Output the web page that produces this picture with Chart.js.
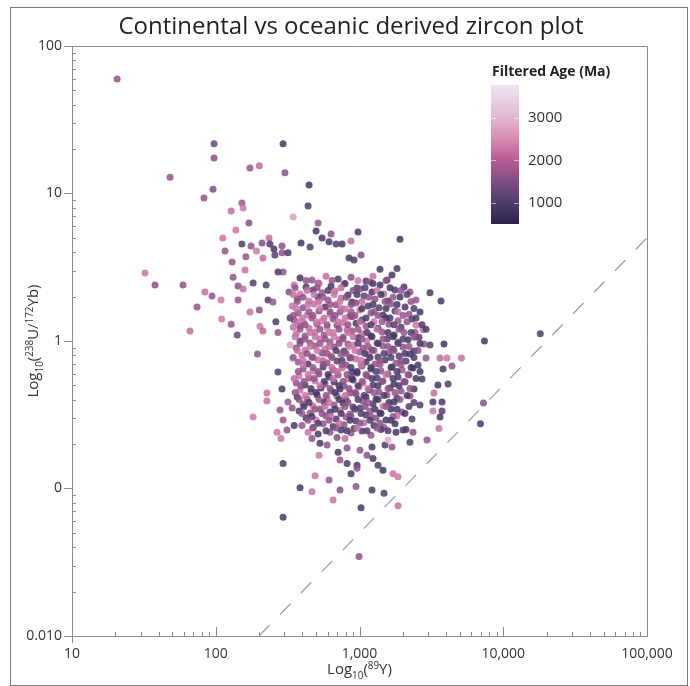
<!DOCTYPE html>
<html>
<head>
<meta charset="utf-8">
<title>Continental vs oceanic derived zircon plot</title>
<script src="https://cdn.jsdelivr.net/npm/chart.js@4.4.1/dist/chart.umd.min.js"></script>
<style>
	html, body { margin: 0; padding: 0; background: #fff; }
	#wrap { width: 690px; height: 686px; }
</style>
</head>
<body>
<div id="wrap"><canvas id="zircon_chart" width="690" height="686"></canvas></div>
<script>
// data
// x = 89Y (ppm), y = 238U/172Yb, colour = filtered age (Ma)
const yttrium = [
	// scattered points around the cloud
	20.6, 32.2, 37.8, 48.1, 82.8, 95.7, 97.3, 97.3, 294, 173,
	201, 303, 446, 152, 155, 128, 439, 170, 346, 515,
	499, 112, 116, 152, 176, 210, 235, 238, 289, 162,
	192, 213, 254, 258, 289, 318, 392, 453, 549, 634,
	614, 687, 756, 873, 977, 1025, 846, 916, 1913, 1241,
	1389, 1824, 1554, 294, 271, 182, 132, 143, 155, 110,
	128, 141, 173, 201, 231, 250, 203, 213, 262, 271,
	329, 346, 2245, 3093, 3690, 2766, 2432, 3093, 3872, 7400,
	18100, 5120, 4400, 3810, 4060, 3631, 3512, 4130, 3294, 3242,
	3749, 3242, 3749, 3631, 3569, 7280, 6940, 2949, 2107, 195,
	271, 289, 227, 227, 182, 318, 340, 280, 294, 351,
	267, 313, 284, 467, 531, 624, 698, 793, 595, 523,
	710, 819, 732, 294, 819, 961, 1008, 1128, 1222, 1241,
	1345, 1457, 1505, 1683, 1579, 1710, 873, 961, 491, 2008,
	2356, 2245, 386, 467, 294, 614, 732, 946, 1025, 1853,
	1853, 993, 1222, 655, 1481, 94.2, 74.1, 66.2, 108.8, 59.2,
	143, 160, 130, 138, 224, 84.1, 329, 340, 2432,
	// dense core
	386, 467, 585, 710, 873, 1110, 1683,
	351, 425, 515, 634, 780, 961, 1183, 1389, 2040,
	323, 386, 475, 549, 676, 832, 1008, 1222, 1481, 1766,
	369, 446, 515, 604, 744, 887, 1075, 1282, 1579, 1913, 2472,
	340, 405, 483, 576, 687, 793, 946, 1147, 1367, 1656, 2073,
	375, 432, 523, 624, 732, 859, 1008, 1202, 1457, 1766, 2210, 2636,
	351, 405, 467, 549, 655, 768, 887, 1041, 1261, 1529, 1853, 2318,
	386, 446, 507, 595, 698, 819, 946, 1110, 1345, 1604, 1944, 2472,
	363, 418, 491, 567, 655, 768, 887, 1041, 1202, 1434, 1738, 2040, 2594,
	386, 453, 531, 624, 721, 832, 977, 1128, 1324, 1554, 1853, 2175, 2811,
	363, 418, 491, 576, 666, 780, 902, 1058, 1222, 1457, 1710, 2008, 2394,
	398, 467, 549, 634, 744, 859, 1008, 1165, 1345, 1604, 1883, 2245, 2902,
	375, 439, 515, 595, 698, 806, 946, 1110, 1282, 1505, 1795, 2107, 2552,
	405, 475, 558, 655, 756, 887, 1041, 1202, 1411, 1683, 1976, 2356,
	380, 446, 523, 614, 710, 832, 961, 1128, 1324, 1579, 1853, 2210, 2722,
	363, 418, 491, 576, 666, 780, 902, 1058, 1241, 1457, 1738, 2073,
	386, 460, 540, 634, 732, 859, 993, 1165, 1367, 1630, 1944, 2394,
	369, 432, 507, 595, 698, 806, 946, 1110, 1302, 1554, 1824, 2245,
	405, 475, 567, 666, 768, 902, 1058, 1241, 1457, 1738, 2636,
	380, 453, 531, 624, 732, 859, 1008, 1183, 1389, 1656, 1976,
	425, 499, 585, 687, 806, 946, 1110, 1302, 1529, 1824, 2318,
	398, 475, 558, 655, 780, 916, 1075, 1261, 1481, 1766,
	439, 515, 744, 873, 1041, 1202, 1411, 1795,
	// dense core, in-between points
	425, 523, 644, 793, 977, 1241, 1529,
	357, 432, 507, 604, 744, 902, 1093, 1324, 1630, 1944,
	346, 405, 483, 558, 666, 806, 961, 1165, 1411, 1710, 2141,
	369, 439, 523, 624, 732, 873, 1041, 1241, 1505, 1824, 2282,
	363, 446, 531, 624, 744, 873, 1041, 1261, 1529, 1853, 2394,
	346, 398, 475, 567, 676, 793, 931, 1110, 1345, 1630, 2008, 2472,
	363, 418, 499, 595, 710, 832, 1008, 1202, 1434, 1738, 2141, 2722,
	386, 453, 531, 614, 721, 832, 977, 1128, 1324, 1579, 1883, 2282, 2902,
	357, 418, 491, 576, 666, 768, 902, 1041, 1222, 1457, 1710, 2008, 2394,
	386, 453, 531, 614, 721, 846, 977, 1147, 1345, 1579, 1853, 2210, 2636,
	369, 432, 507, 595, 687, 806, 931, 1093, 1261, 1481, 1738, 2073, 2552,
	346, 405, 475, 558, 644, 756, 873, 1025, 1183, 1389, 1656, 1944, 2394,
	405, 475, 558, 644, 756, 873, 1025, 1202, 1389, 1656, 1944, 2282,
	375, 439, 515, 604, 698, 819, 961, 1110, 1302, 1529, 1824, 2175, 2636,
	351, 411, 483, 567, 655, 768, 887, 1041, 1222, 1434, 1710, 2040, 2472,
	392, 460, 531, 624, 721, 846, 977, 1147, 1345, 1579, 1883, 2245,
	357, 418, 499, 585, 676, 793, 931, 1075, 1261, 1481, 1766, 2141,
	380, 446, 523, 614, 721, 832, 977, 1147, 1345, 1604, 1913, 2394,
	411, 491, 576, 676, 793, 931, 1093, 1282, 1529, 1824, 2210,
	398, 467, 549, 634, 744, 873, 1025, 1202, 1411, 1710, 2073,
	439, 515, 614, 721, 859, 1008, 1183, 1389, 1656,
	475, 585, 687, 819, 961, 1128, 1324, 1579
];
const uYbRatio = [
	59.7, 2.89, 2.40, 12.9, 9.32, 10.7, 21.7, 17.4, 21.7, 14.9,
	15.4, 13.8, 11.4, 8.62, 7.97, 7.61, 8.23, 6.31, 6.93, 6.31,
	5.57, 4.99, 4.08, 4.55, 4.41, 4.62, 4.99, 4.55, 4.41, 3.72,
	4.08, 3.66, 4.20, 3.83, 3.96, 3.96, 4.62, 4.34, 4.99, 5.31,
	4.70, 4.55, 4.55, 4.77, 5.48, 3.83, 3.66, 3.54, 4.90, 2.75,
	3.07, 3.10, 2.59, 2.94, 2.94, 2.47, 2.71, 2.36, 2.25, 1.41,
	1.30, 1.10, 1.57, 1.62, 1.90, 1.84, 1.26, 1.17, 1.35, 1.14,
	1.43, 1.24, 2.15, 2.12, 1.87, 1.19, 1.14, 0.94, 0.955, 1.00,
	1.12, 0.767, 0.677, 0.646, 0.767, 0.767, 0.503, 0.511, 0.444, 0.386,
	0.386, 0.335, 0.335, 0.305, 0.255, 0.380, 0.275, 0.213, 0.251, 0.816,
	0.616, 0.472, 0.444, 0.392, 0.305, 0.386, 0.352, 0.340, 0.291, 0.267,
	0.241, 0.249, 0.218, 0.218, 0.203, 0.241, 0.222, 0.218, 0.197, 0.168,
	0.176, 0.188, 0.156, 0.148, 0.148, 0.144, 0.182, 0.168, 0.191, 0.160,
	0.144, 0.133, 0.197, 0.191, 0.213, 0.126, 0.126, 0.137, 0.122, 0.249,
	0.241, 0.206, 0.101, 0.095, 0.0638, 0.114, 0.0977, 0.103, 0.074, 0.0765,
	0.120, 0.0346, 0.0977, 0.0836, 0.093, 2.02, 1.70, 1.17, 1.90, 2.40,
	1.90, 3.03, 3.43, 5.65, 2.40, 2.15, 0.94, 0.755, 1.05,
	2.67, 2.59, 2.75, 2.63, 2.71, 2.55, 2.80,
	2.40, 2.32, 2.47, 2.36, 2.43, 2.29, 2.51, 2.40, 2.32,
	2.15, 2.08, 2.22, 2.12, 2.18, 2.05, 2.25, 2.15, 2.08, 2.22,
	1.93, 1.87, 1.99, 1.90, 1.96, 1.84, 2.02, 1.93, 1.87, 1.99, 1.90,
	1.73, 1.68, 1.78, 1.70, 1.76, 1.65, 1.81, 1.73, 1.68, 1.78, 1.70,
	1.55, 1.50, 1.60, 1.52, 1.57, 1.48, 1.62, 1.55, 1.50, 1.60, 1.52, 1.57,
	1.39, 1.35, 1.43, 1.37, 1.41, 1.33, 1.46, 1.39, 1.35, 1.43, 1.37, 1.41,
	1.26, 1.22, 1.30, 1.24, 1.28, 1.19, 1.32, 1.26, 1.22, 1.30, 1.24, 1.28,
	1.12, 1.08, 1.15, 1.10, 1.14, 1.06, 1.17, 1.12, 1.08, 1.15, 1.10, 1.14, 1.06,
	1.00, 0.970, 1.03, 0.985, 1.02, 0.955, 1.05, 1.00, 0.970, 1.03, 0.985, 1.02, 0.955,
	0.897, 0.869, 0.926, 0.883, 0.911, 0.856, 0.940, 0.897, 0.869, 0.926, 0.883, 0.911, 0.856,
	0.804, 0.779, 0.829, 0.791, 0.816, 0.767, 0.842, 0.804, 0.779, 0.829, 0.791, 0.816, 0.767,
	0.720, 0.698, 0.743, 0.709, 0.731, 0.687, 0.755, 0.720, 0.698, 0.743, 0.709, 0.731, 0.687,
	0.646, 0.626, 0.666, 0.636, 0.656, 0.616, 0.677, 0.646, 0.626, 0.666, 0.636, 0.656,
	0.579, 0.561, 0.597, 0.570, 0.588, 0.553, 0.607, 0.579, 0.561, 0.597, 0.570, 0.588, 0.553,
	0.519, 0.503, 0.535, 0.511, 0.527, 0.495, 0.544, 0.519, 0.503, 0.535, 0.511, 0.527,
	0.465, 0.451, 0.480, 0.458, 0.472, 0.444, 0.487, 0.465, 0.451, 0.480, 0.458, 0.472,
	0.417, 0.404, 0.430, 0.411, 0.423, 0.398, 0.437, 0.417, 0.404, 0.430, 0.411, 0.423,
	0.374, 0.363, 0.386, 0.368, 0.380, 0.357, 0.392, 0.374, 0.363, 0.386, 0.368,
	0.335, 0.325, 0.346, 0.330, 0.340, 0.320, 0.352, 0.335, 0.325, 0.346, 0.330,
	0.300, 0.291, 0.310, 0.296, 0.305, 0.287, 0.315, 0.300, 0.291, 0.310, 0.296,
	0.267, 0.259, 0.275, 0.263, 0.271, 0.255, 0.279, 0.267, 0.259, 0.275,
	0.241, 0.234, 0.249, 0.238, 0.245, 0.230, 0.251, 0.241,
	2.57, 2.45, 2.57, 2.45, 2.57, 2.45, 2.57,
	2.30, 2.20, 2.30, 2.20, 2.30, 2.20, 2.30, 2.20, 2.30, 2.20,
	2.07, 1.98, 2.07, 1.98, 2.07, 1.98, 2.07, 1.98, 2.07, 1.98, 2.07,
	1.85, 1.77, 1.85, 1.77, 1.85, 1.77, 1.85, 1.77, 1.85, 1.77, 1.85,
	1.66, 1.58, 1.66, 1.58, 1.66, 1.58, 1.66, 1.58, 1.66, 1.58, 1.66,
	1.49, 1.43, 1.49, 1.43, 1.49, 1.43, 1.49, 1.43, 1.49, 1.43, 1.49, 1.43,
	1.35, 1.29, 1.35, 1.29, 1.35, 1.29, 1.35, 1.29, 1.35, 1.29, 1.35, 1.29,
	1.20, 1.14, 1.20, 1.14, 1.20, 1.14, 1.20, 1.14, 1.20, 1.14, 1.20, 1.14, 1.20,
	1.07, 1.03, 1.07, 1.03, 1.07, 1.03, 1.07, 1.03, 1.07, 1.03, 1.07, 1.03, 1.07,
	0.962, 0.919, 0.962, 0.919, 0.962, 0.919, 0.962, 0.919, 0.962, 0.919, 0.962, 0.919, 0.962,
	0.861, 0.823, 0.861, 0.823, 0.861, 0.823, 0.861, 0.823, 0.861, 0.823, 0.861, 0.823, 0.861,
	0.772, 0.738, 0.772, 0.738, 0.772, 0.738, 0.772, 0.738, 0.772, 0.738, 0.772, 0.738, 0.772,
	0.693, 0.662, 0.693, 0.662, 0.693, 0.662, 0.693, 0.662, 0.693, 0.662, 0.693, 0.662,
	0.621, 0.593, 0.621, 0.593, 0.621, 0.593, 0.621, 0.593, 0.621, 0.593, 0.621, 0.593, 0.621,
	0.557, 0.532, 0.557, 0.532, 0.557, 0.532, 0.557, 0.532, 0.557, 0.532, 0.557, 0.532, 0.557,
	0.498, 0.476, 0.498, 0.476, 0.498, 0.476, 0.498, 0.476, 0.498, 0.476, 0.498, 0.476,
	0.447, 0.427, 0.447, 0.427, 0.447, 0.427, 0.447, 0.427, 0.447, 0.427, 0.447, 0.427,
	0.401, 0.383, 0.401, 0.383, 0.401, 0.383, 0.401, 0.383, 0.401, 0.383, 0.401, 0.383,
	0.360, 0.344, 0.360, 0.344, 0.360, 0.344, 0.360, 0.344, 0.360, 0.344, 0.360,
	0.322, 0.308, 0.322, 0.308, 0.322, 0.308, 0.322, 0.308, 0.322, 0.308, 0.322,
	0.290, 0.277, 0.290, 0.277, 0.290, 0.277, 0.290, 0.277, 0.290,
	0.257, 0.246, 0.257, 0.246, 0.257, 0.246, 0.257, 0.246
];
const filteredAge = [
	1650, 2250, 1600, 1700, 1650, 1550, 1250, 1600, 900, 1700,
	2150, 1550, 850, 1750, 2300, 2200, 950, 1600, 2750, 1700,
	900, 2250, 1700, 1000, 1650, 1550, 2200, 950, 1600, 1700,
	2300, 2150, 900, 1050, 1650, 950, 850, 1000, 900, 1600,
	950, 1050, 900, 2200, 850, 1550, 950, 1000, 850, 2250,
	900, 1000, 950, 1700, 1000, 1050, 1650, 1600, 2200, 2300,
	1700, 1300, 2250, 1600, 1000, 1700, 2350, 2100, 950, 1650,
	1050, 2200, 1600, 950, 900, 2300, 1700, 1000, 850, 900,
	1000, 2250, 1650, 950, 2300, 2150, 900, 1000, 2200, 950,
	900, 2300, 1000, 850, 2250, 1600, 950, 1700, 900, 1650,
	1000, 950, 2250, 2200, 2300, 1700, 1600, 1650, 1750, 900,
	2250, 1600, 2300, 1650, 950, 1700, 1550, 2200, 1650, 2300,
	900, 1600, 1700, 950, 1000, 850, 1650, 1550, 900, 950,
	1000, 850, 950, 1700, 2900, 2250, 900, 1650, 2300, 950,
	1600, 1000, 900, 2250, 950, 1700, 1600, 1650, 900, 2200,
	2300, 1600, 950, 2250, 1000, 1650, 1700, 2200, 2300, 1600,
	1700, 2250, 1650, 2300, 1000, 2200, 2800, 3400, 2700,
	900, 1650, 2200, 950, 1600, 1000, 900,
	2250, 950, 1700, 900, 2150, 1000, 1650, 850, 950,
	1600, 2300, 1000, 1700, 2200, 950, 1550, 900, 2250, 1000,
	1650, 2250, 950, 1700, 2150, 900, 1050, 1600, 950, 850, 1700,
	2300, 1650, 2200, 950, 1700, 2250, 1550, 900, 1000, 1650, 950,
	1700, 2300, 1600, 2200, 1650, 950, 2150, 1700, 900, 1000, 1650, 900,
	1250, 2250, 1700, 2300, 1600, 2200, 1650, 950, 2250, 900, 1700, 1000,
	1650, 2200, 1750, 2300, 1600, 2150, 950, 1700, 900, 1600, 1000, 2250,
	2250, 1700, 2200, 1650, 2300, 1600, 1750, 2150, 950, 1650, 900, 1700, 1000,
	1000, 1650, 2250, 1700, 2200, 1600, 900, 2300, 1700, 950, 1650, 900, 1600,
	1650, 2250, 1700, 2200, 1600, 950, 2300, 1650, 900, 1700, 1000, 1600, 950,
	2200, 1700, 1600, 2250, 1650, 900, 1700, 2300, 950, 1600, 1000, 900, 1650,
	1700, 950, 2250, 1650, 1000, 1600, 2200, 900, 1700, 950, 1650, 1000, 900,
	1650, 2300, 950, 1700, 2200, 900, 1600, 1000, 1650, 950, 1700, 900,
	2250, 1700, 1600, 950, 1650, 2200, 900, 1700, 1000, 1600, 950, 1650, 900,
	1650, 950, 2300, 1700, 900, 1600, 1000, 2250, 950, 1650, 900, 1000,
	2200, 1700, 950, 1650, 900, 1600, 2250, 1000, 1700, 950, 1650, 900,
	950, 1700, 900, 2250, 1650, 1000, 1600, 950, 900, 1700, 1000, 1650,
	1650, 2200, 950, 1700, 900, 1000, 1600, 950, 2300, 900, 1000,
	950, 1700, 1600, 900, 2250, 1650, 1000, 1700, 950, 900, 1600,
	950, 2300, 1650, 900, 1700, 1000, 950, 1600, 900, 2250, 1000,
	1700, 950, 1650, 900, 1600, 1000, 2200, 950, 1700, 900,
	2250, 950, 900, 1650, 1000, 1700, 950, 900,
	1650, 2200, 1700, 950, 2300, 900, 1650,
	1700, 2250, 1650, 950, 2200, 1600, 1000, 2300, 900, 1700,
	2200, 1650, 2300, 1700, 2250, 1600, 950, 1700, 900, 1650, 1000,
	1650, 2250, 2200, 1700, 2300, 1600, 2150, 950, 1650, 900, 1700,
	2250, 1700, 2300, 1650, 2200, 1750, 950, 1600, 900, 2250, 1000,
	1650, 2300, 1700, 2200, 1600, 2250, 1700, 950, 1650, 900, 1700, 1000,
	2200, 1700, 2300, 1650, 2250, 1600, 2200, 950, 1700, 1000, 1650, 900,
	1700, 2250, 1650, 2300, 1600, 2200, 1750, 950, 2250, 900, 1650, 1000, 950,
	2250, 1700, 2200, 1650, 2300, 1600, 2200, 1700, 950, 1650, 900, 1000, 1600,
	1650, 2250, 1700, 2200, 1600, 2300, 950, 1700, 900, 1650, 1000, 1700, 950,
	2200, 1650, 2300, 1700, 950, 1600, 2250, 900, 1700, 1000, 1650, 900, 1600,
	1650, 2250, 1700, 2200, 1600, 950, 1700, 2300, 900, 1650, 1000, 1600, 950,
	2250, 1700, 1600, 2200, 1650, 900, 2300, 950, 1700, 1000, 1650, 900,
	1700, 2250, 1650, 950, 2200, 1600, 900, 1700, 1000, 2250, 950, 1650, 900,
	2200, 1650, 1700, 950, 2250, 1600, 900, 1700, 950, 1650, 1000, 1600, 900,
	1650, 950, 2250, 1700, 900, 1600, 1000, 2200, 950, 1700, 900, 1650,
	1700, 2250, 950, 1650, 900, 2200, 1600, 1000, 1700, 950, 1650, 900,
	1650, 950, 1700, 2250, 900, 1600, 1000, 1700, 950, 900, 1650, 1000,
	950, 1700, 2200, 900, 1650, 1000, 1600, 950, 1700, 900, 1000,
	1700, 950, 1650, 2250, 900, 1600, 1000, 1700, 950, 1650, 900,
	1650, 950, 1700, 2200, 900, 1650, 1000, 1600, 950,
	1700, 950, 1650, 900, 2250, 1000, 1700, 950
];

// axis ticks
const xTickValues = [10, 100, 1000, 10000, 100000];
const xTickLabels = ["10", "100", "1,000", "10,000", "100,000"];
const yTickValues = [0.01, 0.1, 1, 10, 100];
const yTickLabels = ["0.010", "0", "1", "10", "100"];

// dashed discrimination line
const boundaryX = [200, 100000];
const boundaryY = [0.01, 5];

// colour scale
const ageStops = [500, 1000, 1500, 2000, 2500, 3000, 3780];
const ageColours = ["#2c2150", "#4d3d6c", "#7d4e83", "#b95a92", "#d88ab3", "#e2b6d0", "#ece6f1"];
const ageTickValues = [1000, 2000, 3000];

const axisGrey = "#8a8a8a";
const fontFamily = "'Open Sans', 'Noto Sans', sans-serif";

function hexToRgb(h) {
	return [parseInt(h.slice(1, 3), 16), parseInt(h.slice(3, 5), 16), parseInt(h.slice(5, 7), 16)];
}

function ageColor(age, alpha) {
	let i = 0;
	while (i < ageStops.length - 2 && age > ageStops[i + 1]) i++;
	let t = (age - ageStops[i]) / (ageStops[i + 1] - ageStops[i]);
	t = Math.max(0, Math.min(1, t));
	const a = hexToRgb(ageColours[i]), b = hexToRgb(ageColours[i + 1]);
	const c = a.map((v, k) => Math.round(v + (b[k] - v) * t));
	return `rgba(${c[0]},${c[1]},${c[2]},${alpha})`;
}

// draws text with sub / superscripts
function drawRich(ctx, parts, cx, cy, size) {
	const small = size * 0.66;
	let total = 0;
	parts.forEach((p) => {
		ctx.font = `${p[1] === "n" ? size : small}px ${fontFamily}`;
		total += ctx.measureText(p[0]).width;
	});
	let x = cx - total / 2;
	ctx.textAlign = "left";
	ctx.textBaseline = "alphabetic";
	parts.forEach((p) => {
		const s = p[1] === "n" ? size : small;
		ctx.font = `${s}px ${fontFamily}`;
		let dy = 0;
		if (p[1] === "sub") dy = size * 0.3;
		if (p[1] === "sup") dy = -size * 0.38;
		ctx.fillText(p[0], x, cy + size * 0.35 + dy);
		x += ctx.measureText(p[0]).width;
	});
}

const xTitleParts = [["Log", "n"], ["10", "sub"], ["(", "n"], ["89", "sup"], ["Y)", "n"]];
const yTitleParts = [["Log", "n"], ["10", "sub"], ["(", "n"], ["238", "sup"], ["U/", "n"], ["172", "sup"], ["Yb)", "n"]];

const decorations = {
	id: "decorations",
	beforeDraw(chart) {
		const ctx = chart.ctx;
		ctx.save();
		ctx.fillStyle = "#fff";
		ctx.fillRect(0, 0, chart.width, chart.height);
		ctx.strokeStyle = "#7a7a7a";
		ctx.lineWidth = 1;
		ctx.strokeRect(10.5, 7.5, 677, 678);
		ctx.restore();
	},
	afterDraw(chart) {
		const ctx = chart.ctx;
		const area = chart.chartArea;
		const xs = chart.scales.x, ys = chart.scales.y;
		ctx.save();
		ctx.strokeStyle = axisGrey;
		ctx.lineWidth = 1;

		// top and right frame
		ctx.beginPath();
		ctx.moveTo(area.left, area.top + 0.5);
		ctx.lineTo(area.right + 0.5, area.top + 0.5);
		ctx.lineTo(area.right + 0.5, area.bottom);
		ctx.stroke();

		// x ticks (inside)
		ctx.beginPath();
		for (let d = 0; d < xTickValues.length; d++) {
			const px = Math.round(xs.getPixelForValue(xTickValues[d])) + 0.5;
			ctx.moveTo(px, area.bottom);
			ctx.lineTo(px, area.bottom - 9);
			if (d === xTickValues.length - 1) break;
			for (let k = 2; k < 10; k++) {
				const mx = Math.round(xs.getPixelForValue(k * xTickValues[d])) + 0.5;
				ctx.moveTo(mx, area.bottom);
				ctx.lineTo(mx, area.bottom - 4);
			}
		}
		// y minor ticks (inside)
		for (let d = 0; d < yTickValues.length - 1; d++) {
			for (let k = 2; k < 10; k++) {
				const my = Math.round(ys.getPixelForValue(k * yTickValues[d])) + 0.5;
				ctx.moveTo(area.left, my);
				ctx.lineTo(area.left + 4, my);
			}
		}
		ctx.moveTo(area.left + 0.5, area.bottom);
		ctx.lineTo(area.left + 0.5, area.bottom + 7);
		ctx.stroke();

		// title
		ctx.fillStyle = "#222";
		ctx.font = `24px ${fontFamily}`;
		ctx.textAlign = "center";
		ctx.textBaseline = "middle";
		ctx.fillText("Continental vs oceanic derived zircon plot", 351, 27);

		// axis titles
		ctx.fillStyle = "#333";
		drawRich(ctx, xTitleParts, (area.left + area.right) / 2, 669, 15);
		ctx.save();
		ctx.translate(33, (area.top + area.bottom) / 2);
		ctx.rotate(-Math.PI / 2);
		drawRich(ctx, yTitleParts, 0, 0, 15);
		ctx.restore();

		// colour bar
		const cb = { left: 491, right: 519, top: 85, bottom: 224 };
		const minAge = ageStops[0], maxAge = ageStops[ageStops.length - 1];
		const grad = ctx.createLinearGradient(0, cb.bottom, 0, cb.top);
		ageStops.forEach((a, i) => grad.addColorStop((a - minAge) / (maxAge - minAge), ageColours[i]));
		ctx.fillStyle = grad;
		ctx.fillRect(cb.left, cb.top, cb.right - cb.left, cb.bottom - cb.top);

		ctx.fillStyle = "#222";
		ctx.font = `bold 14px ${fontFamily}`;
		ctx.textAlign = "left";
		ctx.textBaseline = "middle";
		ctx.fillText("Filtered Age (Ma)", 492, 72);

		ctx.font = `15px ${fontFamily}`;
		ctx.fillStyle = "#333";
		ctx.strokeStyle = "rgba(255,255,255,0.55)";
		ageTickValues.forEach((a) => {
			const py = cb.bottom - (a - minAge) / (maxAge - minAge) * (cb.bottom - cb.top);
			ctx.fillText(String(a), 528, py);
			ctx.beginPath();
			ctx.moveTo(cb.left, Math.round(py) + 0.5);
			ctx.lineTo(cb.left + 5, Math.round(py) + 0.5);
			ctx.moveTo(cb.right - 5, Math.round(py) + 0.5);
			ctx.lineTo(cb.right, Math.round(py) + 0.5);
			ctx.stroke();
		});
		ctx.restore();
	},
};

const ctx = document.getElementById("zircon_chart").getContext("2d");

const zircon_chart = new Chart(ctx, {
	type: "scatter",
	data: {
		datasets: [
			{
				label: "Zircons",
				data: yttrium.map((x, i) => ({ x: x, y: uYbRatio[i] })),
				pointRadius: 3.5,
				pointBorderWidth: 0,
				pointBackgroundColor: filteredAge.map((a) => ageColor(a, 0.85)),
				order: 0,
			},
			{
				label: "Boundary",
				data: boundaryX.map((x, i) => ({ x: x, y: boundaryY[i] })),
				showLine: true,
				borderColor: "#9c9c9c",
				borderWidth: 1.2,
				borderDash: [15, 15],
				pointRadius: 0,
				order: 1,
			},
		],
	},
	options: {
		responsive: false,
		animation: false,
		layout: { padding: { left: 10, right: 43, top: 46, bottom: 0 } },
		plugins: {
			legend: { display: false },
			tooltip: { enabled: false },
		},
		scales: {
			x: {
				type: "logarithmic",
				min: 10,
				max: 100000,
				afterBuildTicks: (s) => { s.ticks = xTickValues.map((v) => ({ value: v })); },
				afterFit: (s) => { s.height = 50; },
				grid: { display: false, drawTicks: false },
				border: { display: true, color: axisGrey, width: 1 },
				ticks: {
					callback: (v, i) => xTickLabels[i],
					padding: 10,
					maxRotation: 0,
					autoSkip: false,
					color: "#333",
					font: { family: fontFamily, size: 14 },
				},
			},
			y: {
				type: "logarithmic",
				min: 0.01,
				max: 100,
				afterBuildTicks: (s) => { s.ticks = yTickValues.map((v) => ({ value: v })); },
				afterFit: (s) => { s.width = 62; },
				grid: { display: true, drawOnChartArea: false, drawTicks: true, tickLength: 8, color: axisGrey },
				border: { display: true, color: axisGrey, width: 1 },
				ticks: {
					callback: (v, i) => yTickLabels[i],
					padding: 2,
					autoSkip: false,
					color: "#333",
					font: { family: fontFamily, size: 14 },
				},
			},
		},
	},
	plugins: [decorations],
});
</script>
</body>
</html>
